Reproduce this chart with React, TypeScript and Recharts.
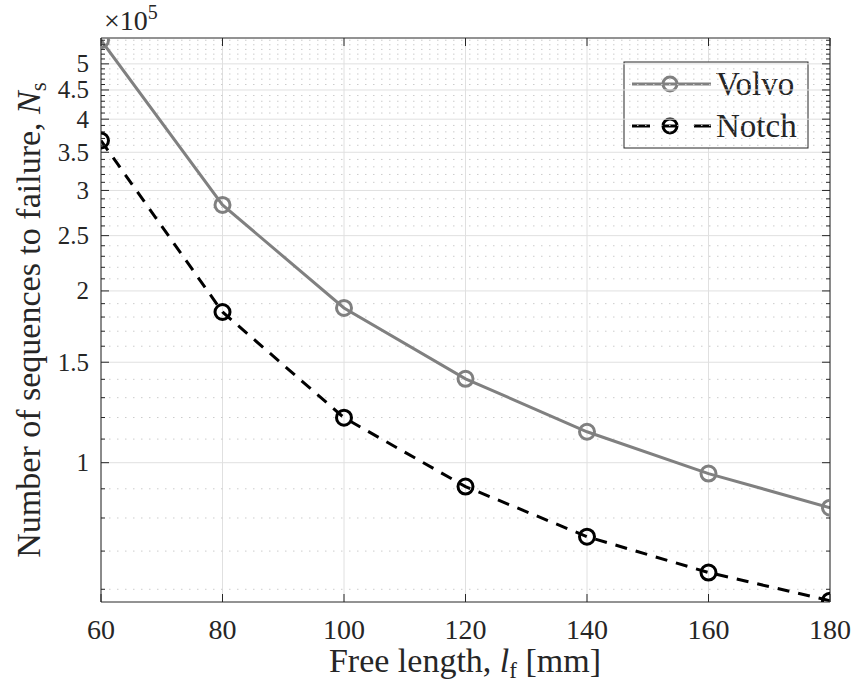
import React from "react";
import {
  CartesianGrid,
  Customized,
  Line,
  LineChart,
  ReferenceLine,
  XAxis,
  YAxis,
} from "recharts";

// free length l_f [mm] and sequences to failure N_s
const LENGTH = [60, 80, 100, 120, 140, 160, 180];
const VOLVO = [550000, 283000, 186700, 140300, 113300, 95700, 83400];
const NOTCH = [367000, 183700, 119900, 90800, 74200, 64200, 57300];

const X_TICKS = [60, 80, 100, 120, 140, 160, 180];
const Y_TICKS = [100000, 150000, 200000, 250000, 300000, 350000, 400000, 450000, 500000];
const Y_MINOR = [
  60000, 70000, 80000, 90000,
  110000, 120000, 130000, 140000, 160000, 170000, 180000, 190000,
  210000, 220000, 230000, 240000, 260000, 270000, 280000, 290000,
  310000, 320000, 330000, 340000, 360000, 370000, 380000, 390000,
  410000, 420000, 430000, 440000, 460000, 470000, 480000, 490000,
  510000, 520000, 530000, 540000, 550000,
];
const Y_DOMAIN = [57000, 555000];

const INK = "#262626";
const VOLVO_COLOR = "#808080";
const NOTCH_COLOR = "#000000";
const FONT = "'Liberation Serif', 'Times New Roman', serif";

const data = LENGTH.map((l, i) => ({ l, volvo: VOLVO[i], notch: NOTCH[i] }));
const allY = [...Y_TICKS, ...Y_MINOR].sort((a, b) => a - b);

function LeftTick({ x, y, payload }: any) {
  const major = Y_TICKS.includes(payload.value);
  return (
    <g>
      <line x1={x} x2={x + (major ? 8 : 4)} y1={y} y2={y} stroke={INK} />
      {major && (
        <text x={x - 12} y={y} dy="0.34em" textAnchor="end" fill={INK} fontSize={25} fontFamily={FONT}>
          {payload.value / 100000}
        </text>
      )}
    </g>
  );
}

function RightTick({ x, y, payload }: any) {
  const major = Y_TICKS.includes(payload.value);
  return <line x1={x} x2={x - (major ? 8 : 4)} y1={y} y2={y} stroke={INK} />;
}

function BottomTick({ x, y, payload }: any) {
  return (
    <g>
      <line x1={x} x2={x} y1={y} y2={y - 8} stroke={INK} />
      <text x={x} y={y + 37} textAnchor="middle" fill={INK} fontSize={28} fontFamily={FONT}>
        {payload.value}
      </text>
    </g>
  );
}

function TopTick({ x, y }: any) {
  return <line x1={x} x2={x} y1={y} y2={y + 8} stroke={INK} />;
}

function Extras() {
  return (
    <g fontFamily={FONT} fill={INK}>
      <text x={104} y={30} fontSize={28}>
        ×10<tspan dy={-11} fontSize={20}>5</tspan>
      </text>
      <text
        x={40}
        y={320}
        transform="rotate(-90, 40, 320)"
        textAnchor="middle"
        fontSize={34}
      >
        Number of sequences to failure,{" "}
        <tspan fontStyle="italic">N</tspan>
        <tspan dy={6} fontSize={23}>s</tspan>
      </text>
      <text x={465} y={672} textAnchor="middle" fontSize={34}>
        Free length, <tspan fontStyle="italic">l</tspan>
        <tspan dy={6} fontSize={23}>f</tspan>
        <tspan dy={-6}> [mm]</tspan>
      </text>
      {/* legend */}
      <rect x={624} y={62} width={184} height={86} fill="#ffffff" stroke={INK} strokeWidth={1} />
      <line x1={632} x2={711} y1={84} y2={84} stroke={VOLVO_COLOR} strokeWidth={3} />
      <circle cx={670} cy={84} r={7} fill="none" stroke={VOLVO_COLOR} strokeWidth={3} />
      <text x={716} y={95} fontSize={33}>Volvo</text>
      <line x1={632} x2={650} y1={126} y2={126} stroke={NOTCH_COLOR} strokeWidth={3} />
      <line x1={694} x2={711} y1={126} y2={126} stroke={NOTCH_COLOR} strokeWidth={3} />
      <line x1={663} x2={677} y1={126} y2={126} stroke={NOTCH_COLOR} strokeWidth={3} />
      <circle cx={670} cy={126} r={7} fill="none" stroke={NOTCH_COLOR} strokeWidth={3} />
      <text x={716} y={137} fontSize={33}>Notch</text>
    </g>
  );
}

export default function App() {
  return (
    <div style={{ position: "absolute", left: 0, top: 0, background: "#fff" }}>
      <LineChart width={853} height={686} data={data} margin={{ top: 0, right: 0, bottom: 0, left: 0 }}>
        <CartesianGrid xAxisId="bottom" yAxisId="left" horizontal={false} stroke="#e0e0e0" />
        {Y_MINOR.map((v) => (
          <ReferenceLine
            key={"m" + v}
            xAxisId="bottom"
            yAxisId="left"
            y={v}
            stroke="#cccccc"
            strokeDasharray="1.5 6.5"
          />
        ))}
        {Y_TICKS.map((v) => (
          <ReferenceLine key={"M" + v} xAxisId="bottom" yAxisId="left" y={v} stroke="#e0e0e0" />
        ))}
        <XAxis
          xAxisId="bottom"
          dataKey="l"
          type="number"
          domain={[60, 180]}
          ticks={X_TICKS}
          interval={0}
          height={84}
          tickSize={0}
          tickMargin={0}
          tickLine={false}
          tick={<BottomTick />}
          axisLine={{ stroke: INK }}
          allowDataOverflow
        />
        <XAxis
          xAxisId="top"
          orientation="top"
          dataKey="l"
          type="number"
          domain={[60, 180]}
          ticks={X_TICKS}
          interval={0}
          height={38}
          tickSize={0}
          tickMargin={0}
          tickLine={false}
          tick={<TopTick />}
          axisLine={{ stroke: INK }}
          allowDataOverflow
        />
        <YAxis
          yAxisId="left"
          type="number"
          scale="log"
          domain={Y_DOMAIN}
          ticks={allY}
          interval={0}
          width={101}
          tickSize={0}
          tickMargin={0}
          tickLine={false}
          tick={<LeftTick />}
          axisLine={{ stroke: INK }}
          allowDataOverflow
        />
        <YAxis
          yAxisId="right"
          orientation="right"
          type="number"
          scale="log"
          domain={Y_DOMAIN}
          ticks={allY}
          interval={0}
          width={23}
          tickSize={0}
          tickMargin={0}
          tickLine={false}
          tick={<RightTick />}
          axisLine={{ stroke: INK }}
          allowDataOverflow
        />
        <Line
          xAxisId="bottom"
          yAxisId="left"
          type="linear"
          dataKey="volvo"
          name="Volvo"
          stroke={VOLVO_COLOR}
          strokeWidth={3}
          dot={{ r: 7.5, stroke: VOLVO_COLOR, strokeWidth: 3, fill: "none" }}
          activeDot={false}
          isAnimationActive={false}
        />
        <Line
          xAxisId="bottom"
          yAxisId="left"
          type="linear"
          dataKey="notch"
          name="Notch"
          stroke={NOTCH_COLOR}
          strokeWidth={3}
          strokeDasharray="12 9"
          dot={{ r: 7.5, stroke: NOTCH_COLOR, strokeWidth: 3, fill: "none", strokeDasharray: "0" }}
          activeDot={false}
          isAnimationActive={false}
        />
        <Customized component={<Extras />} />
      </LineChart>
    </div>
  );
}
